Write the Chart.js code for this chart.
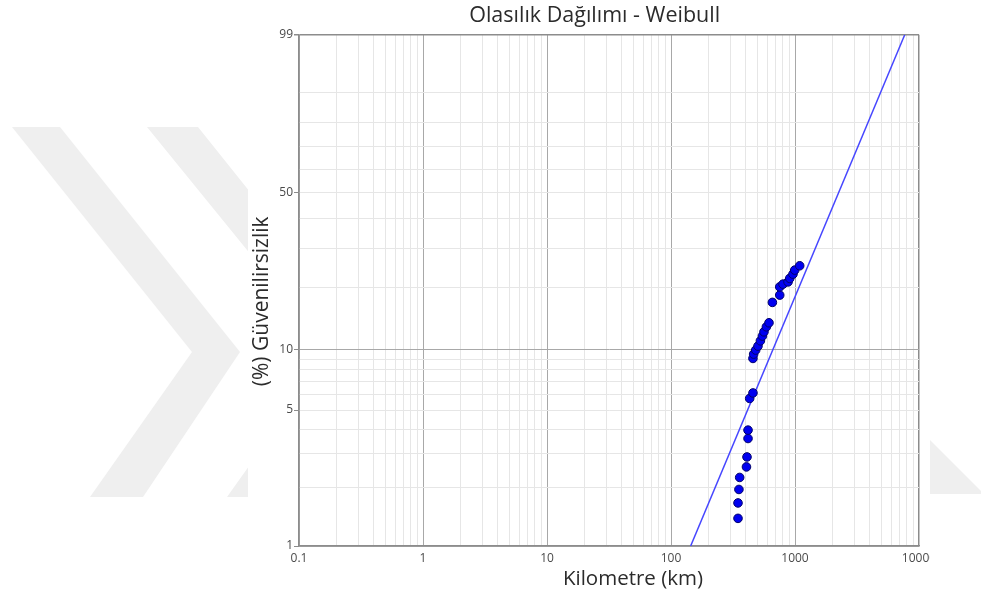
<!DOCTYPE html>
<html lang="tr">
<head>
    <meta charset="UTF-8">
    <title>Olasılık Dağılımı - Weibull</title>
    <script src="https://cdn.jsdelivr.net/npm/chart.js"></script>
    <style>
        html, body { margin: 0; padding: 0; background: #fff; }
        #sayfa { position: relative; width: 981px; height: 596px; overflow: hidden; }
        #filigran { position: absolute; left: 0; top: 0; }
        #kutu { position: absolute; left: 248px; top: 0; width: 682px; height: 596px; background: #fff; }
    </style>
</head>
<body>
<div id="sayfa">
    <!-- arka plandaki soluk filigran -->
    <svg id="filigran" width="981" height="596">
        <g fill="#efefef">
            <polygon points="12,127 60,127 240,352 143,497 90,497 192,352"/>
            <polygon points="147,127 198,127 378,352 281,497 227,497 330,352"/>
            <polygon points="930,440 984,494 930,494"/>
        </g>
    </svg>
    <div id="kutu"><canvas id="weibullChart" width="682" height="596"></canvas></div>
</div>

<script>
    // Arıza verileri: kilometre ve % güvenilirsizlik
    const kilometre = [347, 347, 353, 358, 406, 410, 418, 418, 431, 458,
                       458, 464, 482, 503, 526, 546, 562, 588, 617, 657,
                       753, 753, 800, 879, 907, 963, 995, 1091];
    const guvenilirsizlik = [1.39, 1.67, 1.96, 2.26, 2.56, 2.88, 3.58, 3.95, 5.72, 6.1,
                             9.08, 9.54, 9.99, 10.45, 11.09, 11.7, 12.27, 12.98, 13.58, 17.0,
                             18.4, 20.1, 20.7, 21.2, 22.0, 23.0, 24.0, 25.1];

    // Weibull uyum doğrusunun uçları
    const dogruKm = [144, 7674];
    const dogruYuzde = [1, 99];

    // Eksen ızgarası ve etiketleri
    const yIzgara = [1, 2, 3, 4, 5, 6, 7, 8, 9, 10, 20, 30, 40, 50, 60, 70, 80, 90, 99];
    const yEtiketler = [1, 5, 10, 50, 99];
    const xOnlar = [0.1, 1, 10, 100, 1000, 10000];

    // Weibull olasılık kağıdı dönüşümü: ln(-ln(1-F))
    const weib = p => Math.log(-Math.log(1 - p / 100));

    const xIzgara = [];
    xOnlar.slice(0, -1).forEach(d => { for (let k = 1; k <= 9; k++) xIzgara.push(d * k); });
    xIzgara.push(xOnlar[xOnlar.length - 1]);

    const kenarRenk = '#8c8c8c';
    const anaRenk = '#a8a8a8';
    const araRenk = '#e6e6e6';
    const yaziTipi = "'Open Sans', sans-serif";

    const ctx = document.getElementById('weibullChart').getContext('2d');
    new Chart(ctx, {
        type: 'scatter',
        data: {
            datasets: [{
                label: 'Veri',
                data: kilometre.map((km, i) => ({ x: km, y: weib(guvenilirsizlik[i]) })),
                backgroundColor: '#0000f0',
                borderColor: '#00006a',
                borderWidth: 1,
                pointRadius: 4.3
            }, {
                label: 'Weibull',
                data: dogruKm.map((km, i) => ({ x: km, y: weib(dogruYuzde[i]) })),
                showLine: true,
                pointRadius: 0,
                borderColor: '#4646ff',
                borderWidth: 1.5
            }]
        },
        options: {
            responsive: false,
            animation: false,
            layout: { padding: { left: 0, right: 11, top: 0, bottom: 0 } },
            plugins: {
                legend: { display: false },
                tooltip: { enabled: false },
                title: {
                    display: true,
                    // baştaki boşluk başlığı biraz sağa kaydırır
                    text: 'Olasılık Dağılımı - Weibull'.padStart(31, ' '),
                    color: '#2b2b2b',
                    font: { family: yaziTipi, size: 21.5, weight: 'normal' },
                    padding: { top: 3, bottom: 6 }
                }
            },
            scales: {
                x: {
                    type: 'logarithmic',
                    min: 0.1,
                    max: 10000,
                    afterBuildTicks: s => { s.ticks = xIzgara.map(v => ({ value: v })); },
                    afterFit: s => { s.height = 50; s.paddingLeft = 0; s.paddingRight = 0; },
                    ticks: {
                        autoSkip: false,
                        maxRotation: 0,
                        padding: 5,
                        color: '#4a4a4a',
                        font: { family: yaziTipi, size: 12 },
                        callback: v => xOnlar.includes(v) ? String(v) : ''
                    },
                    grid: {
                        drawTicks: false,
                        color: c => {
                            const v = xIzgara[c.index];
                            if (v === 10000) return kenarRenk;
                            return xOnlar.includes(v) ? anaRenk : araRenk;
                        },
                        lineWidth: c => xIzgara[c.index] === 10000 ? 1.5 : 1
                    },
                    border: { color: kenarRenk, width: 1.5 },
                    title: {
                        display: true,
                        // sola boşluk: başlık grafiğin biraz sağında duruyor
                        text: 'Kilometre (km)'.padStart(23, ' '),
                        color: '#2b2b2b',
                        font: { family: yaziTipi, size: 20.5 },
                        padding: { top: 0, bottom: 5 }
                    }
                },
                y: {
                    type: 'linear',
                    min: weib(1),
                    max: weib(99),
                    afterBuildTicks: s => { s.ticks = yIzgara.map(p => ({ value: weib(p) })); },
                    afterFit: s => { s.width = 51; s.paddingTop = 0; s.paddingBottom = 0; },
                    ticks: {
                        autoSkip: false,
                        padding: 1,
                        color: '#4a4a4a',
                        font: { family: yaziTipi, size: 12 },
                        callback: (v, i) => yEtiketler.includes(yIzgara[i]) ? String(yIzgara[i]) : ''
                    },
                    grid: {
                        tickLength: 5,
                        color: c => {
                            const p = yIzgara[c.index];
                            if (p === 99) return kenarRenk;
                            return (p === 10 || p === 1) ? anaRenk : araRenk;
                        },
                        lineWidth: c => yIzgara[c.index] === 99 ? 1.5 : 1,
                        tickColor: c => yEtiketler.includes(yIzgara[c.index]) ? kenarRenk : 'transparent'
                    },
                    border: { color: kenarRenk, width: 1.5 },
                    title: {
                        display: true,
                        // sona boşluk: başlık biraz aşağıda ortalanmış
                        text: '(%) Güvenilirsizlik'.padEnd(23, ' '),
                        color: '#2b2b2b',
                        font: { family: yaziTipi, size: 21 },
                        padding: { top: 1, bottom: 0 }
                    }
                }
            }
        }
    });
</script>
</body>
</html>
